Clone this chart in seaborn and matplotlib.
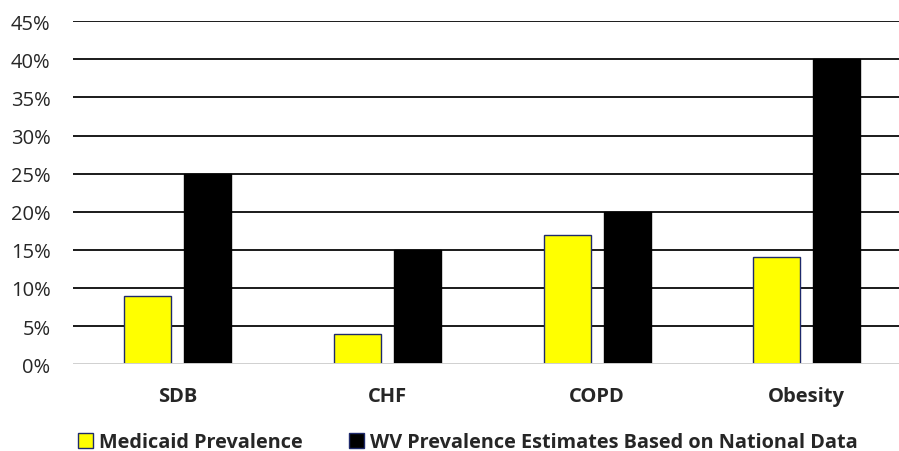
import pandas as pd
import matplotlib
matplotlib.use("Agg")
import matplotlib.pyplot as plt
import seaborn as sns

# chart values (percent)
conditions = ["SDB", "CHF", "COPD", "Obesity"]
medicaid = [9, 4, 17, 14]
wv_national = [25, 15, 20, 40]
series_names = ["Medicaid Prevalence", "WV Prevalence Estimates Based on National Data"]
yticks = [0, 5, 10, 15, 20, 25, 30, 35, 40, 45]

df = pd.DataFrame({
    "condition": conditions * 2,
    "series": [series_names[0]] * 4 + [series_names[1]] * 4,
    "value": medicaid + wv_national,
})

sns.set_style("white")
plt.rcParams["font.family"] = ["Open Sans", "DejaVu Sans"]

fig = plt.figure(figsize=(8.99, 4.52), dpi=100)
# plot area runs a little past the right edge, as in the reference crop
ax = fig.add_axes([0.081, 0.192, 0.933, 0.759])

sns.barplot(data=df, x="condition", y="value", hue="series",
            palette=["#ffff00", "#000000"], saturation=1,
            width=0.572, gap=0.217,
            edgecolor="#1f2a6b", linewidth=1.0, ax=ax, zorder=3)

# black bars get black edge
for bar in ax.containers[1]:
    bar.set_edgecolor("#000000")

ax.set_ylim(0, 45)
ax.set_yticks(yticks)
ax.set_yticklabels([f"{t}%" for t in yticks], fontsize=14.5)
ax.set_xlim(-0.5, 3.5)
for t in yticks[1:]:
    ax.axhline(t, color="#1a1a1a", lw=1.4, zorder=1)
ax.axhline(0, color="#d0d0d0", lw=1.4, zorder=4)

ax.set_xlabel("")
ax.set_ylabel("")
for s in ax.spines.values():
    s.set_visible(False)
ax.tick_params(axis="both", length=0)
ax.tick_params(axis="y", pad=16)
ax.tick_params(axis="x", pad=16)
for lab in ax.get_xticklabels():
    lab.set_fontweight("bold")
    lab.set_fontsize(14.5)

leg = ax.legend(loc="center", bbox_to_anchor=(0.471, -0.228), ncol=2,
                frameon=False, handlelength=0.75, handleheight=0.75,
                handletextpad=0.3, columnspacing=2.3,
                prop={"weight": "bold", "size": 14.3})

fig.savefig("out.png", dpi=100)
